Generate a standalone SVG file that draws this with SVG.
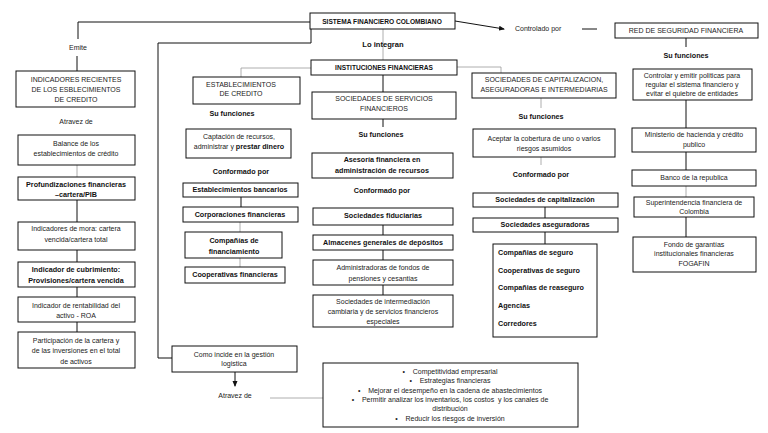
<svg xmlns="http://www.w3.org/2000/svg" width="768" height="433" viewBox="0 0 768 433">
<defs>
<style>
.b{fill:#fff;stroke:#111;stroke-width:1}
.t{font-family:"Liberation Sans",Arial,sans-serif;font-size:7px;fill:#222;text-anchor:middle}
.tl{text-anchor:start}
.bd{font-weight:bold;fill:#111;font-size:7.2px}
.c{stroke:#111;stroke-width:1;fill:none}
.g{stroke:#999;stroke-width:0.8;fill:none}
</style>
<marker id="ah" markerWidth="6" markerHeight="6" refX="5" refY="3" orient="auto" markerUnits="userSpaceOnUse">
<path d="M0,0.5 L6,3 L0,5.5 z" fill="#111"/>
</marker>
</defs>
<rect width="768" height="433" fill="#fff"/>

<g id="connectors">
<path class="c" d="M310,22 H78 V39"/>
<path class="c" d="M77,56 V71"/>
<path class="c" d="M311,29 V43 H158 V358 H172"/>
<path class="c" d="M455,21 L504,29" marker-end="url(#ah)"/>
<path class="c" d="M582,29 H597"/>
<path class="c" d="M686,38 V47"/>
<path class="g" d="M383,29 V60"/>
<path class="g" d="M311,68 H241 V77"/>
<path class="g" d="M457,67 H501 V73"/>
<path class="c" d="M383,75 V92"/>
<path class="c" d="M241,197 V207"/>
<path class="g" d="M240,222 V232"/>
<path class="g" d="M240,258 V267"/>
<path class="c" d="M383,119 V127"/>
<path class="c" d="M383,225 V235"/>
<path class="c" d="M383,250 V260"/>
<path class="c" d="M383,285 V295"/>
<path class="g" d="M541,98 V108"/>
<path class="g" d="M541,157 V165"/>
<path class="c" d="M545,207 V218"/>
<path class="c" d="M545,232 V244"/>
<path class="c" d="M686,100 V128"/>
<path class="c" d="M686,152 V170"/>
<path class="g" d="M686,186 V197"/>
<path class="c" d="M686,217 V237"/>
<path class="g" d="M77,165 V177"/>
<path class="c" d="M77,200 V222"/>
<path class="c" d="M77,250 V262"/>
<path class="c" d="M77,287 V297"/>
<path class="c" d="M77,322 V332"/>
<path class="c" d="M235,372 V386" marker-end="url(#ah)"/>
<path class="g" d="M270,398 H323"/>
</g>

<g id="sistema">
<rect class="b" x="310" y="13" width="145" height="16"/>
<text class="t bd" x="382" y="24" font-size="6.6" style="font-size:6.6px">SISTEMA FINANCIERO COLOMBIANO</text>
</g>
<g id="emite"><text class="t" x="78" y="50">Emite</text></g>
<g id="controlado"><text class="t tl" x="515" y="31">Controlado por</text></g>
<g id="lointegran"><text class="t bd" x="383" y="47" style="font-size:7.6px">Lo integran</text></g>

<g id="red">
<rect class="b" x="615" y="23" width="143" height="15"/>
<text class="t" x="686" y="33" font-size="6.8">RED DE SEGURIDAD FINANCIERA</text>
<text class="t bd" x="686" y="58">Su funciones</text>
</g>
<g id="controlar">
<rect class="b" x="633" y="69" width="119" height="31"/>
<text class="t" x="692" y="78">Controlar y emitir politicas para</text>
<text class="t" x="692" y="87">regular el sistema financiero y</text>
<text class="t" x="692" y="96">evitar el quiebre de entidades</text>
</g>
<g id="ministerio">
<rect class="b" x="632" y="128" width="124" height="24"/>
<text class="t" x="694" y="137">Ministerio de hacienda y crédito</text>
<text class="t" x="694" y="147">publico</text>
</g>
<g id="banco">
<rect class="b" x="632" y="170" width="124" height="16"/>
<text class="t" x="694" y="180">Banco de la republica</text>
</g>
<g id="super">
<rect class="b" x="634" y="197" width="120" height="20"/>
<text class="t" x="694" y="205">Superintendencia financiera de</text>
<text class="t" x="694" y="214">Colombia</text>
</g>
<g id="fondo">
<rect class="b" x="633" y="237" width="123" height="35"/>
<text class="t" x="694" y="247">Fondo de garantías</text>
<text class="t" x="694" y="256">institucionales financieras</text>
<text class="t" x="694" y="266">FOGAFIN</text>
</g>

<g id="instituciones">
<rect class="b" x="311" y="60" width="146" height="15"/>
<text class="t bd" x="384" y="70" style="font-size:6.6px">INSTITUCIONES FINANCIERAS</text>
</g>

<g id="establecimientos">
<rect class="b" x="193" y="77" width="107" height="27"/>
<text class="t" x="241" y="87" font-size="6.8">ESTABLECIMIENTOS</text>
<text class="t" x="241" y="96" font-size="6.8">DE CREDITO</text>
<text class="t bd" x="232" y="116">Su funciones</text>
</g>
<g id="captacion">
<rect class="b" x="186" y="129" width="105" height="29"/>
<text class="t" x="239" y="139">Captación de recursos,</text>
<text class="t" x="239" y="149">administrar y <tspan class="bd">prestar dinero</tspan></text>
<text class="t bd" x="241" y="174">Conformado por</text>
</g>
<g id="bancarios">
<rect class="b" x="183" y="183" width="115" height="14"/>
<text class="t bd" x="240" y="192">Establecimientos bancarios</text>
</g>
<g id="corporaciones">
<rect class="b" x="183" y="207" width="115" height="15"/>
<text class="t bd" x="240" y="217">Corporaciones financieras</text>
</g>
<g id="companias">
<rect class="b" x="185" y="232" width="97" height="26"/>
<text class="t bd" x="234" y="243">Compañías de</text>
<text class="t bd" x="234" y="254">financiamiento</text>
</g>
<g id="cooperativas">
<rect class="b" x="185" y="267" width="100" height="16"/>
<text class="t bd" x="235" y="277">Cooperativas financieras</text>
</g>

<g id="servicios">
<rect class="b" x="312" y="92" width="144" height="27"/>
<text class="t" x="384" y="101" font-size="6.8">SOCIEDADES DE SERVICIOS</text>
<text class="t" x="384" y="111" font-size="6.8">FINANCIEROS</text>
<text class="t bd" x="381" y="137">Su funciones</text>
</g>
<g id="asesoria">
<rect class="b" x="312" y="153" width="141" height="25"/>
<text class="t bd" x="382" y="162">Asesoría financiera en</text>
<text class="t bd" x="382" y="173">administración de recursos</text>
<text class="t bd" x="382" y="193">Conformado por</text>
</g>
<g id="fiduciarias">
<rect class="b" x="313" y="208" width="140" height="17"/>
<text class="t bd" x="383" y="218">Sociedades fiduciarias</text>
</g>
<g id="almacenes">
<rect class="b" x="313" y="235" width="140" height="15"/>
<text class="t bd" x="383" y="245">Almacenes generales de depósitos</text>
</g>
<g id="administradoras">
<rect class="b" x="313" y="260" width="140" height="25"/>
<text class="t" x="383" y="270">Administradoras de fondos de</text>
<text class="t" x="383" y="281">pensiones y cesantias</text>
</g>
<g id="intermediacion">
<rect class="b" x="313" y="295" width="140" height="32"/>
<text class="t" x="383" y="304">Sociedades de intermediación</text>
<text class="t" x="383" y="314">cambiaria y de servicios financieros</text>
<text class="t" x="383" y="324">especiales</text>
</g>

<g id="capitalizacion">
<rect class="b" x="472" y="73" width="144" height="25"/>
<text class="t" x="544" y="82" font-size="6.8">SOCIEDADES DE CAPITALIZACION,</text>
<text class="t" x="544" y="92" font-size="6.8">ASEGURADORAS E INTERMEDIARIAS</text>
<text class="t bd" x="541" y="119">Su funciones</text>
</g>
<g id="aceptar">
<rect class="b" x="473" y="129" width="142" height="28"/>
<text class="t" x="544" y="141">Aceptar la cobertura de uno o varios</text>
<text class="t" x="544" y="151">riesgos asumidos</text>
<text class="t bd" x="541" y="177">Conformado por</text>
</g>
<g id="soccap">
<rect class="b" x="473" y="193" width="145" height="14"/>
<text class="t bd" x="545" y="202">Sociedades de capitalización</text>
</g>
<g id="aseguradoras">
<rect class="b" x="473" y="218" width="145" height="14"/>
<text class="t bd" x="545" y="227">Sociedades aseguradoras</text>
</g>
<g id="lista">
<rect class="b" x="493" y="244" width="104" height="93"/>
<text class="t bd tl" x="498" y="255">Compañias de seguro</text>
<text class="t bd tl" x="498" y="273">Cooperativas de seguro</text>
<text class="t bd tl" x="498" y="290">Compañias de reaseguro</text>
<text class="t bd tl" x="498" y="308">Agencias</text>
<text class="t bd tl" x="498" y="326">Corredores</text>
</g>

<g id="indicadores">
<rect class="b" x="16" y="71" width="119" height="36"/>
<text class="t" x="76" y="82" font-size="6.8">INDICADORES RECIENTES</text>
<text class="t" x="76" y="92" font-size="6.8">DE LOS ESBLECIMIENTOS</text>
<text class="t" x="76" y="102" font-size="6.8">DE CREDITO</text>
<text class="t" x="76" y="124">Atravez de</text>
</g>
<g id="balance">
<rect class="b" x="18" y="135" width="117" height="30"/>
<text class="t" x="76" y="146">Balance de los</text>
<text class="t" x="76" y="156">establecimientos de crédito</text>
</g>
<g id="profundizaciones">
<rect class="b" x="18" y="177" width="117" height="23"/>
<text class="t bd" x="76" y="187">Profundizaciones financieras</text>
<text class="t bd" x="76" y="197">–cartera/PIB</text>
</g>
<g id="mora">
<rect class="b" x="18" y="222" width="117" height="28"/>
<text class="t" x="76" y="231">Indicadores de mora: cartera</text>
<text class="t" x="76" y="242">vencida/cartera total</text>
</g>
<g id="cubrimiento">
<rect class="b" x="18" y="262" width="117" height="25"/>
<text class="t bd" x="76" y="272">Indicador de cubrimiento:</text>
<text class="t bd" x="76" y="283">Provisiones/cartera vencida</text>
</g>
<g id="roa">
<rect class="b" x="18" y="297" width="117" height="25"/>
<text class="t" x="76" y="308">Indicador de rentabilidad del</text>
<text class="t" x="76" y="318">activo - ROA</text>
</g>
<g id="participacion">
<rect class="b" x="18" y="332" width="117" height="36"/>
<text class="t" x="76" y="343">Participación de la cartera y</text>
<text class="t" x="76" y="353">de las inversiones en el total</text>
<text class="t" x="76" y="364">de activos</text>
</g>

<g id="como">
<rect class="b" x="172" y="346" width="125" height="26"/>
<text class="t" x="234" y="357">Como incide en la gestión</text>
<text class="t" x="234" y="366">logistica</text>
<text class="t" x="235" y="398">Atravez de</text>
</g>
<g id="beneficios">
<rect class="b" x="323" y="363" width="255" height="64"/>
<text class="t" x="450" y="374" xml:space="preserve">•    Competitividad empresarial</text>
<text class="t" x="450" y="383" xml:space="preserve">•    Estrategias financieras</text>
<text class="t" x="450" y="393" xml:space="preserve">•    Mejorar el desempeño en la cadena de abastecimientos</text>
<text class="t" x="450" y="402" xml:space="preserve">•    Permitir analizar los inventarios, los costos  y los canales de</text>
<text class="t" x="450" y="411">distribución</text>
<text class="t" x="450" y="421" xml:space="preserve">•    Reducir los riesgos de inversión</text>
</g>
</svg>
